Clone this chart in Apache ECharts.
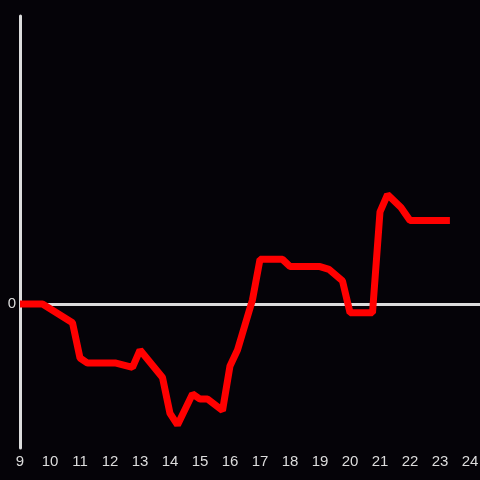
<!DOCTYPE html>
<html>
<head>
<meta charset="utf-8">
<script src="https://cdn.jsdelivr.net/npm/echarts@6/dist/echarts.min.js"></script>
<style>
    html, body { margin: 0; padding: 0; background: #050308; }
    #chart { width: 480px; height: 480px; }
</style>
</head>
<body>
<div id="chart"></div>
<script>
// x = hour of day, y = value
var hours = [9, 9.75, 10.75, 11, 11.25, 12.2, 12.75, 13, 13.75, 14, 14.25, 14.75, 15, 15.25, 15.75, 16, 16.25, 16.75, 17, 17.75, 18, 19, 19.3, 19.75, 20, 20.75, 21, 21.25, 21.7, 22, 23.33];
var values = [0, 0, -0.13, -0.375, -0.41, -0.41, -0.44, -0.32, -0.51, -0.76, -0.84, -0.625, -0.66, -0.66, -0.74, -0.43, -0.32, 0.03, 0.31, 0.31, 0.26, 0.26, 0.24, 0.16, -0.06, -0.06, 0.64, 0.76, 0.67, 0.58, 0.58];

var points = [];
for (var i = 0; i < hours.length; i++) {
    points.push([hours[i], values[i]]);
}

var chart = echarts.init(document.getElementById('chart'));
var axisColor = '#dcdcdc';

var option = {
    backgroundColor: '#050308',
    animation: false,
    grid: {
        left: 20,
        right: 0,
        top: 16,
        bottom: 32,
        containLabel: false,
        outerBoundsMode: 'none'
    },
    xAxis: {
        type: 'value',
        min: 9,
        max: 9 + 460 / 30,
        interval: 1,
        axisLine: { show: false },
        axisTick: { show: false },
        splitLine: { show: false },
        axisLabel: {
            color: axisColor,
            fontSize: 15,
            margin: 6,
            hideOverlap: false,
            formatter: function (v) {
                return Math.abs(v - Math.round(v)) < 1e-6 ? String(Math.round(v)) : '';
            }
        }
    },
    yAxis: {
        type: 'value',
        min: -1,
        max: 2,
        interval: 1,
        axisLine: { show: true, lineStyle: { color: axisColor, width: 3 } },
        axisTick: { show: false },
        splitLine: {
            show: true,
            lineStyle: {
                color: ['rgba(0,0,0,0)', axisColor, 'rgba(0,0,0,0)', 'rgba(0,0,0,0)'],
                width: 3
            }
        },
        axisLabel: {
            color: axisColor,
            fontSize: 15,
            margin: 4,
            formatter: function (v) {
                return v === 0 ? '0' : '';
            }
        }
    },
    series: [{
        type: 'line',
        data: points,
        showSymbol: false,
        lineStyle: { color: '#ff0000', width: 7, cap: 'butt' },
        z: 5
    }]
};
chart.setOption(option);
</script>
</body>
</html>
